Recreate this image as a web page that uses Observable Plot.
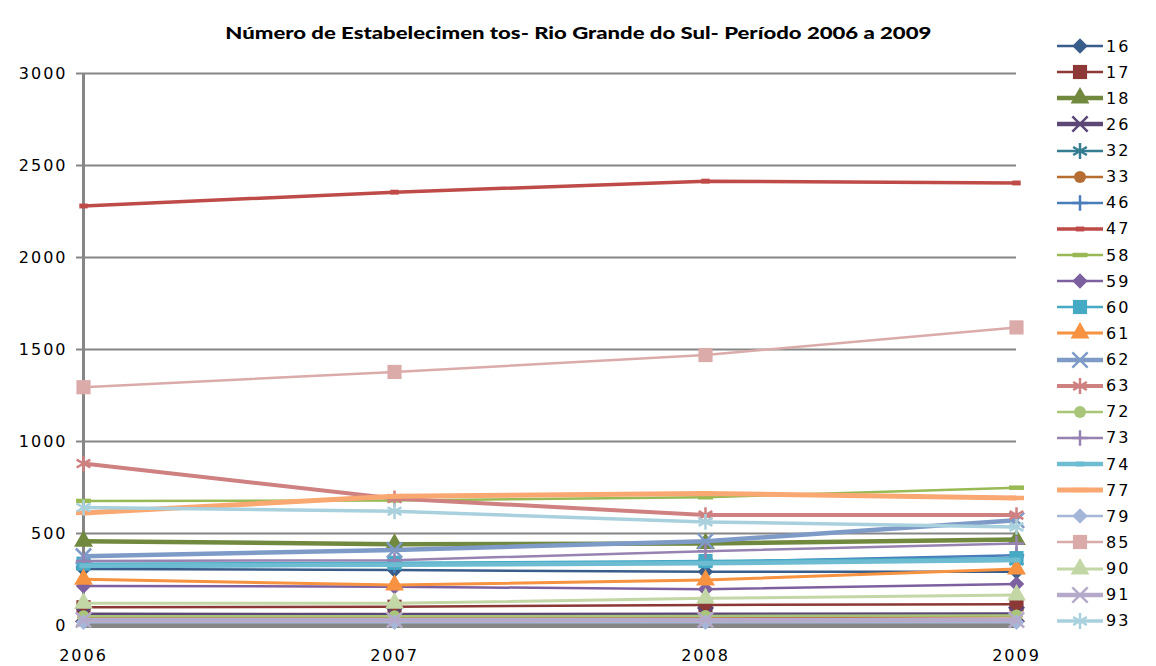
<!DOCTYPE html>
<html>
<head>
<meta charset="utf-8">
<script src="https://cdn.jsdelivr.net/npm/d3@7"></script>
<script src="https://cdn.jsdelivr.net/npm/@observablehq/plot@0.6"></script>
<style>
  html, body { margin: 0; padding: 0; background: #fff; }
  #wrap { position: relative; width: 1156px; height: 666px; overflow: hidden; }
  #title { position: absolute; left: 0; top: 25px; width: 1156px; text-align: center;
           font-family: Lato, "Open Sans", sans-serif; font-weight: 900; font-size: 16.5px; line-height: 16px; color: #000; }
  #title span { display: inline-block; transform-origin: center; white-space: pre; }
  #chart { position: absolute; left: 0; top: 0; }
  #legend { position: absolute; left: 1056px; top: 33px; font-family: "DejaVu Sans", sans-serif; font-size: 16px; letter-spacing: 2px; }
  .row { height: 26.13px; display: flex; align-items: center; }
  .row svg { display: block; }
  .row span { margin-left: 2px; }
</style>
</head>
<body>
<div id="wrap">
  <div id="chart"></div>
  <div id="title"><span id="tt">Número de Estabelecimen tos- Rio Grande do Sul- Período 2006 a 2009</span></div>
  <div id="legend"></div>
</div>
<script>
const years = [2006, 2007, 2008, 2009];
const yTicks = [0, 500, 1000, 1500, 2000, 2500, 3000];
const codes = ["16","17","18","26","32","33","46","47","58","59","60","61","62","63","72","73","74","77","79","85","90","91","93"];

const v16 = [307, 301, 292, 292];
const v17 = [99, 102, 112, 115];
const v18 = [458, 442, 446, 467];
const v26 = [58, 57, 58, 60];
const v32 = [330, 336, 342, 352];
const v33 = [45, 44, 46, 50];
const v46 = [318, 328, 345, 382];
const v47 = [2280, 2355, 2415, 2405];
const v58 = [677, 680, 697, 749];
const v59 = [215, 211, 197, 225];
const v60 = [336, 341, 350, 366];
const v61 = [251, 220, 247, 307];
const v62 = [377, 410, 458, 572];
const v63 = [880, 690, 600, 600];
const v72 = [50, 50, 52, 55];
const v73 = [350, 355, 404, 446];
const v74 = [325, 330, 338, 356];
const v77 = [612, 702, 718, 693];
const v79 = [18, 18, 18, 18];
const v85 = [1295, 1378, 1470, 1620];
const v90 = [121, 121, 148, 166];
const v91 = [30, 30, 30, 30];
const v93 = [641, 621, 563, 536];
const seriesValues = [v16,v17,v18,v26,v32,v33,v46,v47,v58,v59,v60,v61,v62,v63,v72,v73,v74,v77,v79,v85,v90,v91,v93];

const colors = ["#385D8A","#8C3836","#71893F","#5C4776","#357D91","#B66D31","#4A7EBB","#BE4B48","#98B954","#7D60A0","#46AAC5","#F69240",
                "#7E9BC8","#CE8180","#A9C57A","#9683B1","#6DBCD2","#F9A872","#A5B7D9","#DBABAA","#C3D6A5","#B6AACA","#A8D1DD"];
const lineWidths = [2.5,2.5,4.5,4.5,2.5,2.5,2.5,3.5,2.5,2.5,2.5,3,4.5,4,2.5,2.5,4.5,5,2.5,2.5,3,4.5,3.5];

// custom dash markers
const shortDash = { draw(ctx, size) { const r = Math.sqrt(size / Math.PI); ctx.rect(-r * 0.6, -r * 0.35, r * 1.2, r * 0.7); } };
const longDash = { draw(ctx, size) { const r = Math.sqrt(size / Math.PI); ctx.rect(-r, -r * 0.3, 2 * r, r * 0.6); } };

const markerCycle = [
  {sym: "diamond2", d3sym: d3.symbolDiamond2, r: 7, filled: true},
  {sym: "square", d3sym: d3.symbolSquare, r: 8, filled: true},
  {sym: "triangle", d3sym: d3.symbolTriangle, r: 7, filled: true},
  {sym: "times", d3sym: d3.symbolTimes, r: 7, filled: false},
  {sym: "asterisk", d3sym: d3.symbolAsterisk, r: 7.5, filled: false},
  {sym: "circle", d3sym: d3.symbolCircle, r: 6, filled: true},
  {sym: "plus", d3sym: d3.symbolPlus, r: 5, filled: false},
  {sym: shortDash, d3sym: shortDash, r: 7, filled: true},
  {sym: longDash, d3sym: longDash, r: 7.5, filled: true}
];

const marks = [];
marks.push(Plot.ruleY(yTicks.filter(d => d > 0), {stroke: "#868686", strokeWidth: 2}));
marks.push(Plot.ruleY([0], {stroke: "#868686", strokeWidth: 5}));
marks.push(Plot.ruleX([2006], {stroke: "#868686", strokeWidth: 3}));
marks.push(Plot.axisY({ticks: yTicks, tickSize: 7, tickPadding: 9, stroke: "#868686", strokeWidth: 2, tickFormat: d => String(d), label: null}));
marks.push(Plot.axisX({ticks: years, tickSize: 0, tickPadding: 24, tickFormat: d => String(d), label: null}));

codes.forEach((code, i) => {
  const data = years.map((yr, j) => ({year: yr, value: seriesValues[i][j]}));
  const m = markerCycle[i % markerCycle.length];
  marks.push(Plot.line(data, {x: "year", y: "value", stroke: colors[i], strokeWidth: lineWidths[i], strokeLinejoin: "round", strokeLinecap: "butt"}));
  marks.push(Plot.dot(data, {x: "year", y: "value", symbol: m.sym, r: m.r,
    fill: m.filled ? colors[i] : "none", stroke: m.filled ? "none" : colors[i], strokeWidth: m.filled ? 0 : 2.5}));
});

const plot = Plot.plot({
  width: 1156, height: 666,
  marginTop: 73, marginBottom: 41, marginLeft: 83, marginRight: 140,
  x: {domain: [2006, 2009], label: null},
  y: {domain: [0, 3000], label: null},
  style: {fontFamily: "DejaVu Sans, sans-serif", fontSize: "16px", letterSpacing: "2px", color: "#000", background: "#fff"},
  marks
});
document.getElementById("chart").appendChild(plot);

// legend
const legend = d3.select("#legend");
codes.forEach((code, i) => {
  const m = markerCycle[i % markerCycle.length];
  const row = legend.append("div").attr("class", "row");
  const svg = row.append("svg").attr("width", 48).attr("height", 24);
  svg.append("line").attr("x1", 1).attr("x2", 47).attr("y1", 12).attr("y2", 12)
    .attr("stroke", colors[i]).attr("stroke-width", lineWidths[i]);
  svg.append("path").attr("transform", "translate(24,12)")
    .attr("d", d3.symbol().type(m.d3sym).size(Math.PI * m.r * m.r)())
    .attr("fill", m.filled ? colors[i] : "none")
    .attr("stroke", m.filled ? "none" : colors[i])
    .attr("stroke-width", m.filled ? 0 : 2.5);
  row.append("span").text(code);
});

// stretch title to match reference width
const tt = document.getElementById("tt");
const w = tt.getBoundingClientRect().width;
tt.style.transform = `scaleX(${706 / w})`;
</script>
</body>
</html>
